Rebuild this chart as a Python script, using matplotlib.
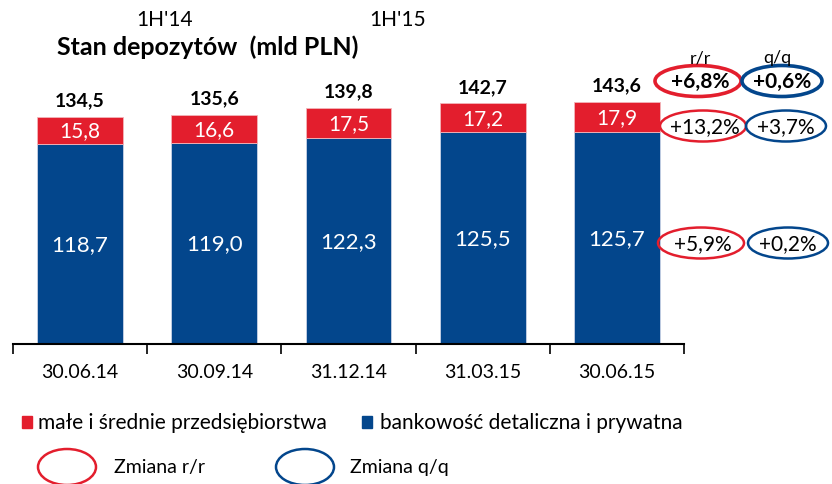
import matplotlib
matplotlib.use("Agg")
import matplotlib.pyplot as plt
from matplotlib.patches import Ellipse, Rectangle
import numpy as np

plt.rcParams['font.family'] = ['Lato', 'DejaVu Sans']

# data
dates = ["30.06.14", "30.09.14", "31.12.14", "31.03.15", "30.06.15"]
retail = [118.7, 119.0, 122.3, 125.5, 125.7]   # bankowość detaliczna i prywatna
sme = [15.8, 16.6, 17.5, 17.2, 17.9]           # małe i średnie przedsiębiorstwa
totals = [134.5, 135.6, 139.8, 142.7, 143.6]
yoy = ["+6,8%", "+13,2%", "+5,9%"]
qoq = ["+0,6%", "+3,7%", "+0,2%"]

red = "#E31E2D"
blue = "#03468C"

def fmt(v):
    return "{:.1f}".format(v).replace(".", ",")

fig = plt.figure(figsize=(8.32, 4.85), dpi=100)
ax = fig.add_axes([13/832, 1 - 345/485, (684 - 13)/832, 270/485])

x = np.arange(len(dates))
b1 = ax.bar(x, retail, width=0.64, color=blue, edgecolor="#c9d3e6", linewidth=0.6)
b2 = ax.bar(x, sme, width=0.64, bottom=retail, color=red, edgecolor="#f3b5ba", linewidth=0.6)

for i in range(len(dates)):
    ax.text(x[i], retail[i] / 2, fmt(retail[i]), ha="center", va="center",
            color="white", fontsize=16)
    ax.text(x[i], retail[i] + sme[i] / 2, fmt(sme[i]), ha="center", va="center",
            color="white", fontsize=15)
    ax.text(x[i], totals[i] + 5, fmt(totals[i]), ha="center", va="bottom",
            color="black", fontsize=14, fontweight="bold")

ax.set_xlim(-0.5, len(dates) - 0.5)
ax.set_ylim(0, 160)
ax.set_xticks(np.arange(-0.5, len(dates), 1.0))
ax.set_xticklabels([])
ax.set_xticks(x, minor=True)
ax.set_xticklabels(dates, minor=True, fontsize=14)
ax.tick_params(axis="x", which="major", length=7, width=1.2, direction="out")
ax.tick_params(axis="x", which="minor", length=0, pad=14)
ax.set_yticks([])
for s in ["top", "right", "left"]:
    ax.spines[s].set_visible(False)
ax.spines["bottom"].set_linewidth(1.5)

# overlay in pixel coordinates for annotations
ov = fig.add_axes([0, 0, 1, 1])
ov.set_xlim(0, 832)
ov.set_ylim(485, 0)
ov.axis("off")

ov.text(57, 47, "Stan depozytów  (mld PLN)", fontsize=18, fontweight="bold", va="center")
ov.text(165, 20, "1H'14", fontsize=15, ha="center", va="center")
ov.text(398, 20, "1H'15", fontsize=15, ha="center", va="center")

ov.text(700, 58, "r/r", fontsize=13, ha="center", va="center")
ov.text(777, 58, "q/q", fontsize=13, ha="center", va="center")

rows_y = [82, 127, 244]
rx = [698, 703, 701]
qx = [782, 786, 788]
for k in range(3):
    bold = "bold" if k == 0 else "normal"
    lw = 2.6 if k == 0 else 1.8
    ov.add_patch(Ellipse((rx[k], rows_y[k]), 86, 31, fill=False, edgecolor=red, linewidth=lw))
    ov.add_patch(Ellipse((qx[k], rows_y[k]), 80, 31, fill=False, edgecolor=blue, linewidth=lw))
    ov.text(rx[k] + 2, rows_y[k], yoy[k], fontsize=15, fontweight=bold, ha="center", va="center")
    ov.text(qx[k], rows_y[k], qoq[k], fontsize=15, fontweight=bold, ha="center", va="center")

# legend
ov.add_patch(Rectangle((22, 417), 10, 12, color=red))
ov.text(38, 423, "małe i średnie przedsiębiorstwa", fontsize=15, va="center")
ov.add_patch(Rectangle((362, 417), 10, 12, color=blue))
ov.text(380, 423, "bankowość detaliczna i prywatna", fontsize=15, va="center")

ov.add_patch(Ellipse((67, 468), 58, 36, fill=False, edgecolor=red, linewidth=1.8))
ov.text(114, 468, "Zmiana r/r", fontsize=14, va="center")
ov.add_patch(Ellipse((305, 468), 58, 36, fill=False, edgecolor=blue, linewidth=1.8))
ov.text(350, 468, "Zmiana q/q", fontsize=14, va="center")

fig.savefig("out.png", dpi=100)
